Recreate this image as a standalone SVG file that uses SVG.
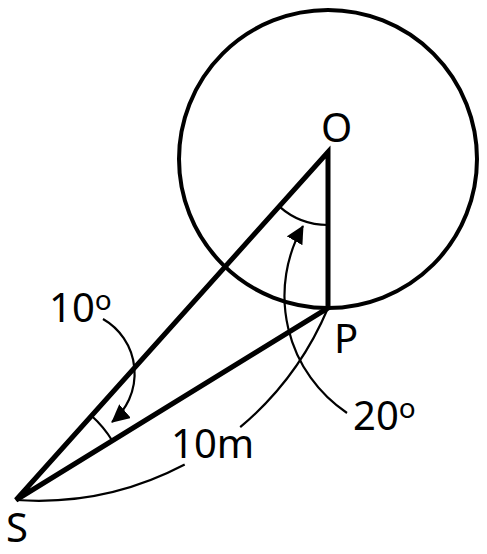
<svg xmlns="http://www.w3.org/2000/svg" width="487" height="554" viewBox="0 0 487 554">
<style>
.thick{fill:none;stroke:#000;stroke-width:5;stroke-linejoin:miter}
.circ{fill:none;stroke:#000;stroke-width:4}
.thin{fill:none;stroke:#000;stroke-width:2.2}
.lbl{font-family:"Noto Sans","Open Sans","DejaVu Sans",sans-serif;font-size:40px;fill:#000}
</style>
<defs>
<marker id="ah" markerUnits="userSpaceOnUse" markerWidth="18" markerHeight="18" viewBox="0 0 18 18" refX="17" refY="9" orient="auto">
<path d="M0,0 L18,9 L0,18 Z" fill="#000"/>
</marker>
</defs>
<rect width="487" height="554" fill="#fff"/>
<g id="circle">
<circle class="circ" cx="328" cy="159" r="149"/>
</g>
<g id="triangle">
<polygon class="thick" points="328,152 16,500 328,308"/>
</g>
<g id="angle-O">
<path class="thin" d="M279.2,206.4 A73,73 0 0,0 328,225"/>
</g>
<g id="angle-S">
<path class="thin" d="M91.5,415.8 A113,113 0 0,1 112.3,440.8"/>
</g>
<g id="connectors">
<path class="thin" d="M103,319 A63,63 0 0,1 112,422" marker-end="url(#ah)"/>
<path class="thin" d="M347,413 A141,141 0 0,1 303,226" marker-end="url(#ah)"/>
<path class="thin" d="M16,500 A316,316 0 0,0 184.7,464.5 M240.2,427.2 A316,316 0 0,0 328,308"/>
</g>
<g id="label-O"><text class="lbl" x="321" y="142">O</text></g>
<g id="label-P"><text class="lbl" x="334" y="353">P</text></g>
<g id="label-S"><text class="lbl" x="6" y="542">S</text></g>
<g id="label-10deg"><text class="lbl" x="49" y="322">10<tspan font-size="28" dy="-12">o</tspan></text></g>
<g id="label-20deg"><text class="lbl" x="353" y="430">20<tspan font-size="28" dy="-12">o</tspan></text></g>
<g id="label-10m"><text class="lbl" x="171" y="458">10m</text></g>
</svg>
